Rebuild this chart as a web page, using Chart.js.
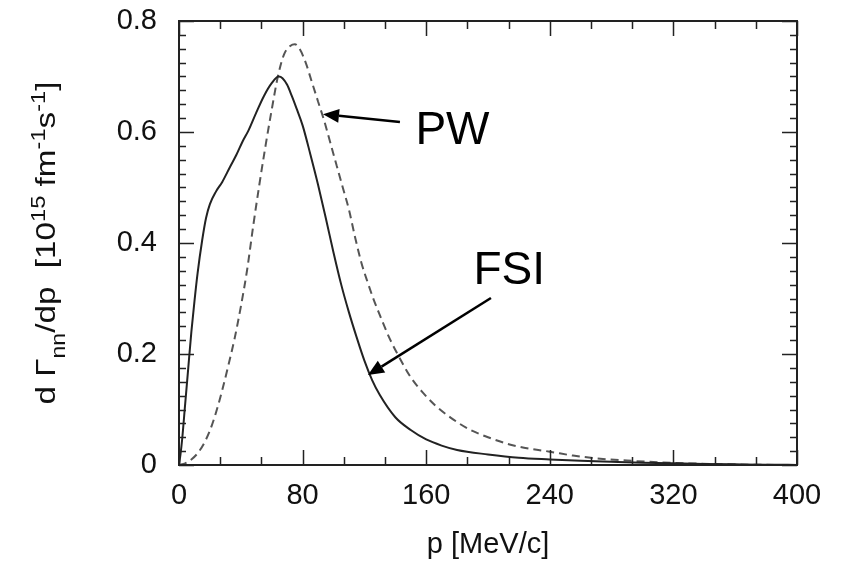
<!DOCTYPE html>
<html>
<head>
<meta charset="utf-8">
<script src="https://cdn.jsdelivr.net/npm/chart.js@4.4.1/dist/chart.umd.min.js"></script>
<style>
  body { margin: 0; background: #fff; }
  canvas { display: block; }
</style>
</head>
<body>
<canvas id="chart" width="844" height="562"></canvas>
<script>
// FSI curve (solid)
const pFSI = [0, 1, 2, 4, 6, 8, 10, 12, 15, 17.5, 20, 24, 28, 33, 37, 41, 45, 50, 55, 60, 64.5, 67, 70, 73, 76, 80, 85, 90, 95, 100, 105, 110, 115, 120, 125, 130, 140, 150, 160, 170, 180, 200, 220, 240, 260, 280, 300, 320, 340, 360, 380, 400];
const vFSI = [0, 0.02, 0.045, 0.11, 0.175, 0.24, 0.295, 0.345, 0.405, 0.445, 0.47, 0.493, 0.51, 0.537, 0.558, 0.582, 0.603, 0.635, 0.665, 0.688, 0.700, 0.697, 0.685, 0.665, 0.643, 0.612, 0.56, 0.505, 0.445, 0.383, 0.325, 0.275, 0.23, 0.188, 0.153, 0.126, 0.086, 0.063, 0.046, 0.035, 0.027, 0.019, 0.013, 0.010, 0.0075, 0.0058, 0.0042, 0.003, 0.002, 0.0012, 0.0005, 0.0002];

// PW curve (dashed)
const pPW = [0, 4, 8, 12, 16, 20, 24, 28, 32, 36, 40, 44, 48, 52, 56, 60, 64, 68, 72, 75, 78, 82, 86, 90, 94, 98, 102, 106, 110, 114, 118, 122, 126, 130, 136, 142, 150, 158, 166, 176, 188, 200, 214, 228, 240, 255, 270, 290, 310, 330, 350, 370, 400];
const vPW = [0, 0.003, 0.01, 0.021, 0.038, 0.062, 0.095, 0.135, 0.18, 0.228, 0.285, 0.35, 0.43, 0.505, 0.575, 0.64, 0.70, 0.74, 0.755, 0.758, 0.75, 0.725, 0.69, 0.655, 0.62, 0.58, 0.54, 0.50, 0.46, 0.41, 0.365, 0.33, 0.298, 0.27, 0.23, 0.197, 0.158, 0.13, 0.107, 0.085, 0.064, 0.05, 0.037, 0.029, 0.024, 0.017, 0.012, 0.008, 0.005, 0.003, 0.0015, 0.0005, 0];

const xTicks = [0, 80, 160, 240, 320, 400];
const yTicks = [0, 0.2, 0.4, 0.6, 0.8];

const ink = '#111';
const fontFamily = '"Liberation Sans", Arial, sans-serif';

const labels = [
  { text: 'PW', x: 153, y: 0.578, from: [143, 0.618], to: [93.2, 0.632] },
  { text: 'FSI', x: 190.6, y: 0.326, from: [201.9, 0.301], to: [122.3, 0.162] }
];

// y title pieces: text, baseline shift, font size
const yTitle = [
  ['d \u0393', 0, 28], ['nn', 10, 19.5], ['/dp  [10', 0, 28], ['15', -10, 20],
  [' fm', 0, 28], ['-1', -10, 20], ['s', 0, 28], ['-1', -10, 20], [']', 0, 28]
];

function toPoints(xs, ys) {
  return xs.map((x, i) => ({ x: x, y: ys[i] }));
}

function arrow(ctx, x1, y1, x2, y2) {
  const ang = Math.atan2(y2 - y1, x2 - x1);
  const len = 16, half = 7;
  const bx = x2 - len * Math.cos(ang), by = y2 - len * Math.sin(ang);
  ctx.beginPath();
  ctx.moveTo(x1, y1);
  ctx.lineTo(bx, by);
  ctx.lineWidth = 2.5;
  ctx.strokeStyle = '#000';
  ctx.stroke();
  ctx.beginPath();
  ctx.moveTo(x2, y2);
  ctx.lineTo(bx + half * Math.sin(ang), by - half * Math.cos(ang));
  ctx.lineTo(bx - half * Math.sin(ang), by + half * Math.cos(ang));
  ctx.closePath();
  ctx.fillStyle = '#000';
  ctx.fill();
}

const framePlugin = {
  id: 'frame',
  afterDatasetsDraw(chart) {
    const ctx = chart.ctx;
    const a = chart.chartArea;
    const xs = chart.scales.x, ys = chart.scales.y;
    ctx.save();
    ctx.strokeStyle = '#222';
    ctx.lineWidth = 2;
    ctx.strokeRect(a.left, a.top, a.right - a.left, a.bottom - a.top);

    ctx.lineWidth = 1.5;
    ctx.beginPath();
    // x ticks, top and bottom, pointing inward
    for (let v = 0; v <= 400.01; v += 80 / 3) {
      const major = xTicks.some(t => Math.abs(t - v) < 0.01);
      const px = Math.round(xs.getPixelForValue(v)) + 0.5;
      const l = major ? 15 : 8;
      ctx.moveTo(px, a.bottom); ctx.lineTo(px, a.bottom - l);
      ctx.moveTo(px, a.top); ctx.lineTo(px, a.top + l);
    }
    // y ticks, left and right
    for (let v = 0; v <= 0.8001; v += 0.025) {
      const major = yTicks.some(t => Math.abs(t - v) < 0.001);
      const py = Math.round(ys.getPixelForValue(v)) + 0.5;
      const l = major ? 15 : 7;
      ctx.moveTo(a.left, py); ctx.lineTo(a.left + l, py);
      ctx.moveTo(a.right, py); ctx.lineTo(a.right - l, py);
    }
    ctx.stroke();

    // annotations
    ctx.fillStyle = '#000';
    ctx.font = '46px ' + fontFamily;
    ctx.textBaseline = 'alphabetic';
    ctx.textAlign = 'left';
    labels.forEach(l => {
      ctx.fillText(l.text, xs.getPixelForValue(l.x), ys.getPixelForValue(l.y));
      arrow(ctx,
        xs.getPixelForValue(l.from[0]), ys.getPixelForValue(l.from[1]),
        xs.getPixelForValue(l.to[0]), ys.getPixelForValue(l.to[1]));
    });

    // y axis title, stretched along its length like the original
    let total = 0;
    yTitle.forEach(p => { ctx.font = p[2] + 'px ' + fontFamily; total += ctx.measureText(p[0]).width; });
    const stretch = 323 / total;
    ctx.translate(55, (a.top + a.bottom) / 2);
    ctx.rotate(-Math.PI / 2);
    ctx.scale(stretch, 1);
    ctx.fillStyle = ink;
    let x = -total / 2;
    yTitle.forEach(p => {
      ctx.font = p[2] + 'px ' + fontFamily;
      ctx.fillText(p[0], x, p[1]);
      x += ctx.measureText(p[0]).width;
    });
    ctx.restore();
  }
};

const tickFont = { family: fontFamily, size: 29 };

new Chart(document.getElementById('chart'), {
  type: 'scatter',
  data: {
    datasets: [
      {
        label: 'FSI',
        data: toPoints(pFSI, vFSI),
        showLine: true,
        borderColor: '#222',
        borderWidth: 2,
        pointRadius: 0,
        cubicInterpolationMode: 'monotone'
      },
      {
        label: 'PW',
        data: toPoints(pPW, vPW),
        showLine: true,
        borderColor: '#555',
        borderWidth: 2,
        borderDash: [8, 5],
        pointRadius: 0,
        cubicInterpolationMode: 'monotone'
      }
    ]
  },
  options: {
    responsive: false,
    animation: false,
    layout: { padding: { top: 21, right: 47, left: 0, bottom: 0 } },
    plugins: {
      legend: { display: false },
      tooltip: { enabled: false }
    },
    scales: {
      x: {
        type: 'linear',
        min: 0,
        max: 400,
        afterBuildTicks: s => { s.ticks = xTicks.map(v => ({ value: v })); },
        afterFit: s => { s.height = 97; s.paddingLeft = 0; s.paddingRight = 0; },
        grid: { display: false, drawTicks: false },
        border: { display: false },
        ticks: { font: tickFont, color: ink, padding: 14, maxRotation: 0 },
        title: {
          display: true,
          text: 'p [MeV/c]',
          font: tickFont,
          color: ink,
          padding: { top: 0, bottom: 0 }
        }
      },
      y: {
        min: 0,
        max: 0.8,
        afterBuildTicks: s => { s.ticks = yTicks.map(v => ({ value: v })); },
        afterFit: s => { s.width = 179; s.paddingTop = 0; s.paddingBottom = 0; },
        grid: { display: false, drawTicks: false },
        border: { display: false },
        ticks: { font: tickFont, color: ink, padding: 22 }
      }
    }
  },
  plugins: [framePlugin]
});
</script>
</body>
</html>
